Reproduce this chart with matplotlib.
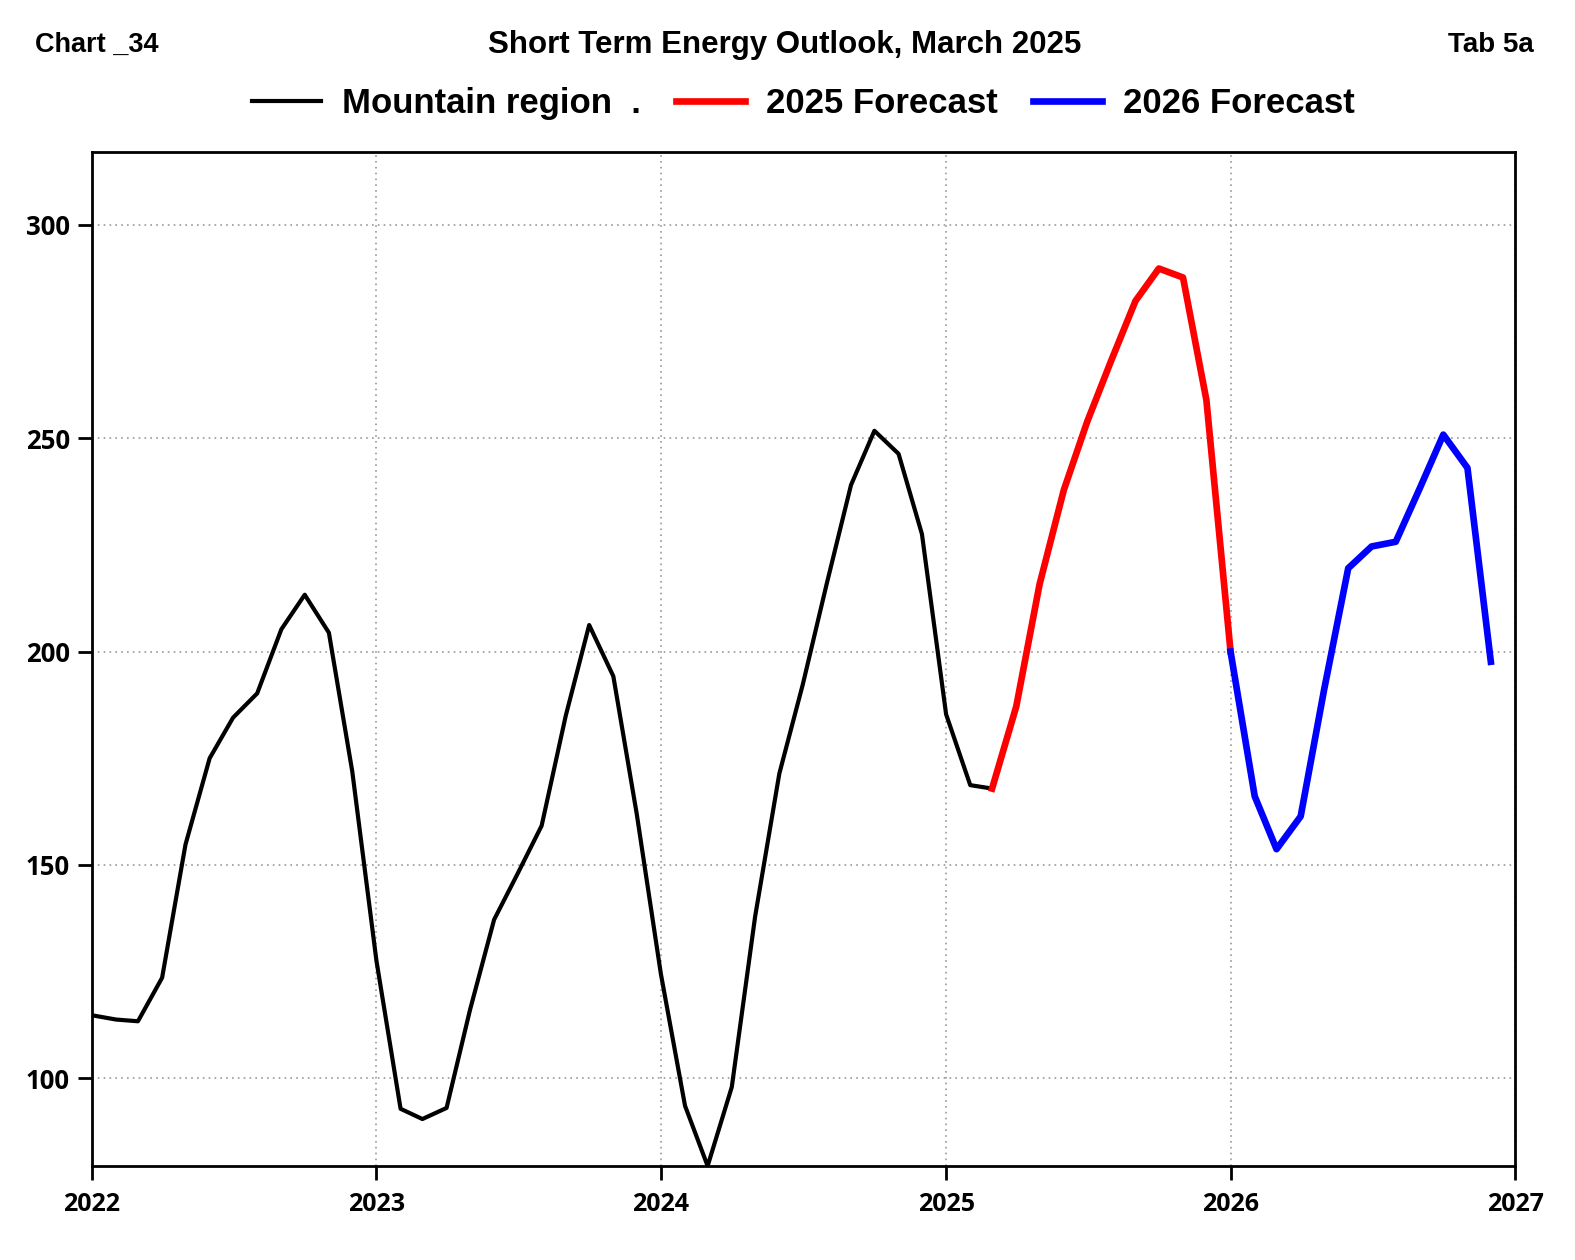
import datetime as dt
import matplotlib
matplotlib.use("Agg")
import matplotlib.pyplot as plt

# ---- data ----
hist_start = (2022, 1)
hist_values = [
    114.8, 113.8, 113.4, 123.6, 154.8, 175.0, 184.5, 190.2, 205.2, 213.3, 204.4, 171.9,
    127.6, 92.9, 90.5, 93.1, 116.0, 137.2, 147.9, 159.2, 185.0, 206.2, 194.2, 162.0,
    124.5, 93.6, 79.5, 98.0, 138.0, 171.4, 192.2, 216.0, 239.0, 251.7, 246.3, 227.5,
    185.3, 168.7, 167.9,
]
f25_start = (2025, 3)
f25_values = [167.9, 187.1, 215.8, 237.8, 253.8, 268.2, 282.1, 289.7, 287.6, 258.9, 200.0]
f26_start = (2026, 1)
f26_values = [200.0, 166.1, 153.7, 161.4, 191.0, 219.5, 224.6, 225.7, 238.3, 250.8, 243.0, 197.6]

series_labels = ["Mountain region  .", "2025 Forecast", "2026 Forecast"]
year_ticks = [2022, 2023, 2024, 2025, 2026, 2027]
y_ticks = [100, 150, 200, 250, 300]


def months(start, n):
    y, m = start
    out = []
    for _ in range(n):
        out.append(dt.date(y, m, 1))
        m += 1
        if m > 12:
            m = 1
            y += 1
    return out


hdr_font = ["Liberation Sans", "DejaVu Sans"]
tick_font = ["Open Sans", "DejaVu Sans"]

fig = plt.figure(figsize=(15.75, 12.6), dpi=100)
ax = fig.add_axes([0.0584, 0.0746, 0.9035, 0.8048])

ax.plot(months(hist_start, len(hist_values)), hist_values, color="black", lw=3.0,
        label=series_labels[0])
ax.plot(months(f25_start, len(f25_values)), f25_values, color="#ff0000", lw=4.8,
        label=series_labels[1])
ax.plot(months(f26_start, len(f26_values)), f26_values, color="#0000ff", lw=4.8,
        label=series_labels[2])

ax.set_xlim(dt.date(2022, 1, 1), dt.date(2027, 1, 1))
ax.set_ylim(79.5, 317)
ax.set_xticks([dt.date(y, 1, 1) for y in year_ticks])
ax.set_xticklabels([str(y) for y in year_ticks], fontfamily=tick_font,
                   fontweight="bold", fontsize=18)
ax.set_yticks(y_ticks)
ax.set_yticklabels([str(v) for v in y_ticks], fontfamily=tick_font,
                   fontweight="bold", fontsize=18.5)

ax.tick_params(axis="both", direction="out", length=10, width=2, colors="black")
ax.tick_params(axis="x", pad=9)
ax.tick_params(axis="y", pad=6)
for sp in ax.spines.values():
    sp.set_linewidth(2)
    sp.set_color("black")

ax.grid(True, color="#999999", linestyle=(0, (1, 2.5)), linewidth=1.2)

leg = fig.legend(loc="center", bbox_to_anchor=(0.51, 0.918), ncol=3, frameon=False,
                 handlelength=2.0, handletextpad=0.6, columnspacing=1.0,
                 prop={"family": hdr_font, "weight": "bold", "size": 25})

fig.text(0.022, 0.964, "Chart _34", ha="left", va="center", fontfamily=hdr_font,
         fontweight="bold", fontsize=19.5)
fig.text(0.498, 0.964, "Short Term Energy Outlook, March 2025", ha="center", va="center",
         fontfamily=hdr_font, fontweight="bold", fontsize=22.5)
fig.text(0.974, 0.964, "Tab 5a", ha="right", va="center", fontfamily=hdr_font,
         fontweight="bold", fontsize=20)

fig.savefig("out.png", dpi=100, facecolor="white")
